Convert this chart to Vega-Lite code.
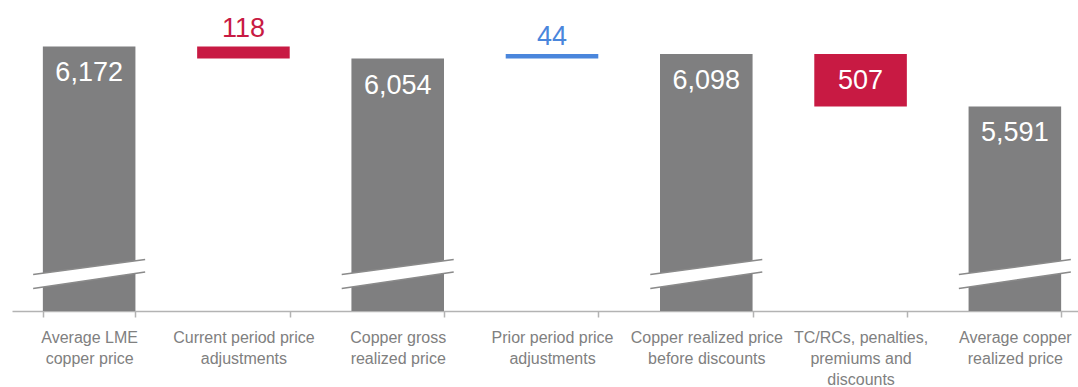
{
  "$schema": "https://vega.github.io/schema/vega-lite/v6.json",
  "width": 1066,
  "height": 311,
  "autosize": {"type": "none"},
  "padding": {"left": 12, "top": 0, "right": 0, "bottom": 76},
  "background": "white",
  "config": {"view": {"stroke": null}},
  "data": {
    "values": [
      {"cat": "Average LME\ncopper price", "kind": "total", "high": 6172, "low": null, "amount": 6172},
      {"cat": "Current period price\nadjustments", "kind": "decrease", "high": 6172, "low": 6054, "amount": 118},
      {"cat": "Copper gross\nrealized price", "kind": "total", "high": 6054, "low": null, "amount": 6054},
      {"cat": "Prior period price\nadjustments", "kind": "increase", "high": 6098, "low": 6054, "amount": 44},
      {"cat": "Copper realized price\nbefore discounts", "kind": "total", "high": 6098, "low": null, "amount": 6098},
      {"cat": "TC/RCs, penalties,\npremiums and\ndiscounts", "kind": "decrease", "high": 6098, "low": 5591, "amount": 507},
      {"cat": "Average copper\nrealized price", "kind": "total", "high": 5591, "low": null, "amount": 5591}
    ]
  },
  "encoding": {
    "x": {
      "field": "cat",
      "type": "nominal",
      "sort": [
        "Average LME\ncopper price",
        "Current period price\nadjustments",
        "Copper gross\nrealized price",
        "Prior period price\nadjustments",
        "Copper realized price\nbefore discounts",
        "TC/RCs, penalties,\npremiums and\ndiscounts",
        "Average copper\nrealized price"
      ],
      "scale": {"range": [0, 1080], "paddingInner": 0.4, "paddingOuter": 0.2},
      "axis": {
        "title": null,
        "labelAngle": 0,
        "tickBand": "extent",
        "tickSize": 6,
        "tickWidth": 1.5,
        "tickColor": "#b3b3b3",
        "domainColor": "#b3b3b3",
        "domainWidth": 1.5,
        "labelFont": "Liberation Sans",
        "labelFontSize": 16,
        "labelColor": "#808080",
        "labelPadding": 12,
        "labelLineHeight": 21,
        "labelLimit": 0,
        "labelExpr": "split(datum.label, '\\n')"
      }
    }
  },
  "layer": [
    {
      "transform": [{"filter": "datum.kind == 'total'"}],
      "mark": {"type": "bar", "clip": true},
      "encoding": {
        "y": {"field": "high", "type": "quantitative", "scale": {"domain": [3612, 6621], "zero": false, "nice": false}, "axis": null},
        "color": {"field": "kind", "type": "nominal", "scale": {"domain": ["total", "decrease", "increase"], "range": ["#7f7f80", "#c81a43", "#4a86dc"]}, "legend": null}
      }
    },
    {
      "transform": [{"filter": "datum.kind != 'total'"}],
      "mark": {"type": "bar"},
      "encoding": {
        "y": {"field": "high", "type": "quantitative"},
        "y2": {"field": "low"},
        "color": {"field": "kind", "type": "nominal", "legend": null}
      }
    },
    {
      "transform": [{"filter": "datum.kind == 'total'"}],
      "mark": {"type": "point", "shape": "M-1,0.016L1,-0.252L1,-0.03L-1,0.266Z", "size": 12544, "filled": true, "fill": "white", "strokeWidth": 0, "opacity": 1},
      "encoding": {
        "y": {"datum": 3973, "type": "quantitative"}
      }
    },
    {
      "transform": [{"filter": "datum.kind == 'total'"}],
      "mark": {"type": "point", "shape": "M-1,0.016L1,-0.252M-1,0.266L1,-0.03", "size": 12544, "filled": false, "fill": null, "stroke": "#8a8a8a", "strokeWidth": 1.5, "opacity": 1},
      "encoding": {
        "y": {"datum": 3973, "type": "quantitative"}
      }
    },
    {
      "transform": [{"filter": "datum.amount > 300"}],
      "mark": {"type": "text", "dy": 35, "baseline": "alphabetic", "font": "Liberation Sans", "fontSize": 27, "color": "white"},
      "encoding": {
        "y": {"field": "high", "type": "quantitative"},
        "text": {"field": "amount", "type": "quantitative", "format": ","}
      }
    },
    {
      "transform": [{"filter": "datum.amount <= 300"}],
      "mark": {"type": "text", "dy": -9, "baseline": "alphabetic", "font": "Liberation Sans", "fontSize": 27},
      "encoding": {
        "y": {"field": "high", "type": "quantitative"},
        "text": {"field": "amount", "type": "quantitative", "format": ","},
        "color": {"field": "kind", "type": "nominal", "legend": null}
      }
    }
  ]
}
